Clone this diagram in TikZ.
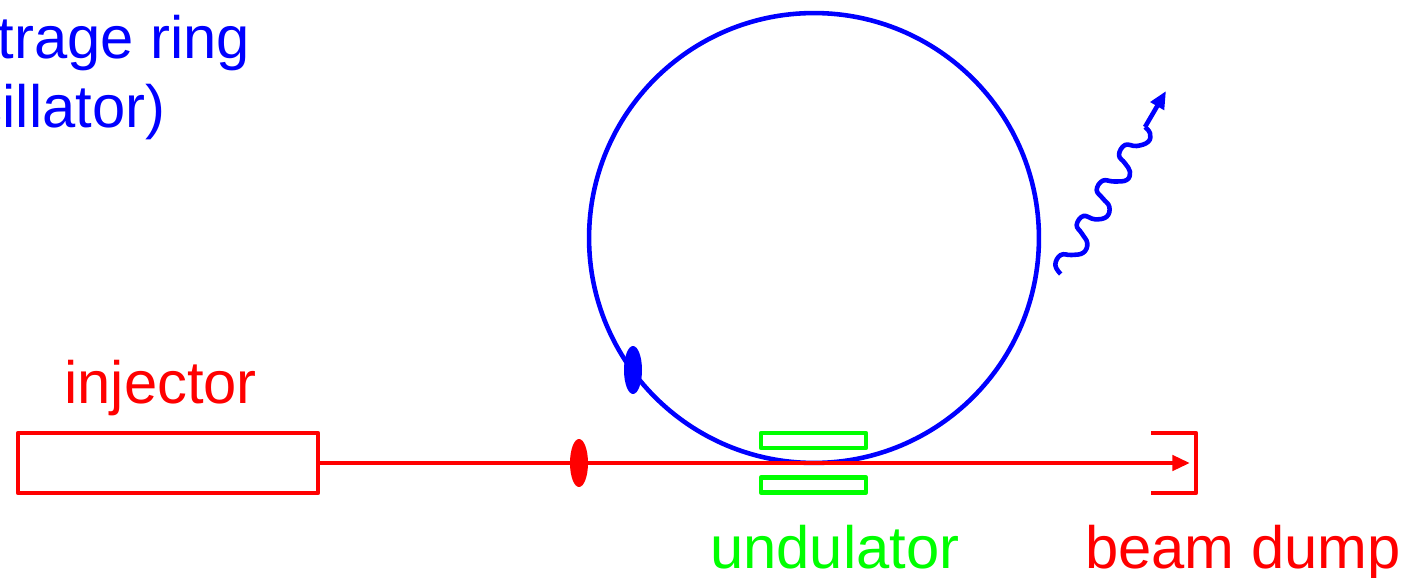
\documentclass[tikz,border=0pt]{standalone}
\usepackage{fontspec}
\setmainfont{Liberation Sans}
\usetikzlibrary{arrows.meta, positioning, shapes.geometric}
\tikzset{
    beamdiagram/.style={x=0.02cm, y=-0.02cm, >={Triangle[length=10pt, width=8.5pt]}, line width=2.6pt, line join=round},
    label/.style={font=\fontsize{34}{39.3}\selectfont, inner sep=0pt},
    injbox/.style={draw=red, minimum width=6cm, minimum height=1.2cm, inner sep=0pt},
    ringpath/.style={draw=blue, circle, minimum size=9cm, inner sep=0pt},
    bunch/.style={ellipse, minimum width=0.36cm, minimum height=0.96cm, inner sep=0pt},
    magnet/.style={draw=green, line width=2.6pt, minimum width=2.1cm, minimum height=0.3cm, inner sep=0pt},
    % electron beam and emitted light
    beam/.style={->, red},
    photon/.style={blue, line cap=butt},
}
\begin{document}
\begin{tikzpicture}[beamdiagram]
    \useasboundingbox (0,0) rectangle (1418,578);

    \node[ringpath]                       (ring)    at (814,238)   {};
    \node[injbox]                         (inj)     at (168,463)   {};
    \coordinate                           (dumpin)  at (1190,463);
    \coordinate                           (dumptop) at (1151,433);
    \coordinate                           (dumpbot) at (1151,493);
    \coordinate                           (dumpne)  at (1196,433);
    \coordinate                           (dumpse)  at (1196,493);

    \draw[beam] (inj) -- (dumpin);
    \draw[red] (dumptop) -- (dumpne) -- (dumpse) -- (dumpbot);

    \node[magnet]                         (undtop)  at (813.5,440.5) {};
    \node[magnet]                         (undbot)  at (813.5,485)   {};

    \node[bunch, fill=red]                (ebunch)  at (579,463)   {};
    \node[bunch, fill=blue]               (rbunch)  at (633,370)   {};

    % wavy light pulse, then its arrow
    \coordinate (wavestart) at (1060.7,274);
    \coordinate (waveend)   at (1145,127);
    \coordinate (wavetip)   at (1166,91);
    \draw[photon] plot[smooth, tension=0.7] coordinates {(wavestart) (1055.3,265) (1060.7,255) (1071.7,255)
        (1083.3,252.7) (1087.3,243.3) (1081.7,233.3) (1076.7,225) (1083.3,216) (1095,219.3) (1106.7,216.7)
        (1109.3,206.7) (1102.7,198.3) (1096.7,190) (1102.7,180.7) (1114,181.5) (1126.7,180) (1130,171.7)
        (1125,163.3) (1119,155) (1125,145) (1136.7,146) (1148.3,141.7) (1150,133.3) (waveend)};
    \draw[->, blue] (waveend) -- (wavetip);

    \node[label, text=blue, anchor=base east] (ringname) at (252.5,58)  {trage ring};
    \node[label, text=blue, anchor=base east] (ringkind) at (167.5,127) {cillator)};
    \node[label, text=red, anchor=base west]  (injname)  at (62,403)  {injector};
    \node[label, text=green, anchor=base west] (undname) at (708,568) {undulator};
    \node[label, text=red, anchor=base west]  (dumpname) at (1083,568) {beam dump};
\end{tikzpicture}
\end{document}
